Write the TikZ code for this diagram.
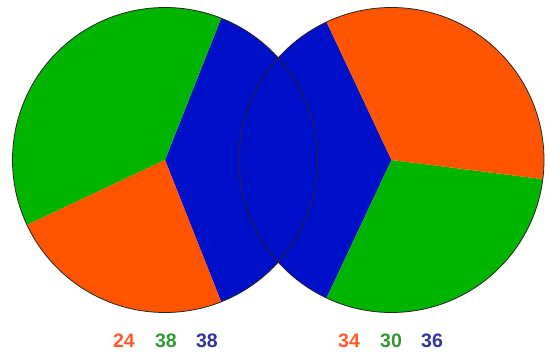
\documentclass[tikz,border=0pt]{standalone}
\usepackage{fontspec}
\setmainfont{Liberation Sans}
\definecolor{orangex}{HTML}{FF5500}
\definecolor{greenx}{HTML}{00B400}
\definecolor{bluex}{HTML}{0010C8}
\definecolor{orangetxt}{HTML}{FF5A2A}
\definecolor{greentxt}{HTML}{339933}
\definecolor{bluetxt}{HTML}{333399}
\tikzset{
  rim/.style={draw=black!85,line width=0.8pt},
  num/.style={font=\fontsize{19.5}{21}\selectfont\bfseries,inner sep=0pt}
}
\begin{document}
\begin{tikzpicture}[x=1pt,y=1pt]
\useasboundingbox (0,0) rectangle (549,354);
\coordinate (cl) at (165,194);
\coordinate (cr) at (391.5,194);
% left pie: 24 / 38 / 38
\fill[bluex] (cl) -- ++(-68.4:152.5) arc[start angle=-68.4,end angle=68.4,radius=152.5] -- cycle;
\fill[greenx] (cl) -- ++(68.4:152.5) arc[start angle=68.4,end angle=205.2,radius=152.5] -- cycle;
\fill[orangex] (cl) -- ++(205.2:152.5) arc[start angle=205.2,end angle=291.6,radius=152.5] -- cycle;
% right pie: 34 / 30 / 36
\fill[bluex] (cr) -- ++(115.2:152.5) arc[start angle=115.2,end angle=244.8,radius=152.5] -- cycle;
\fill[greenx] (cr) -- ++(244.8:152.5) arc[start angle=244.8,end angle=352.8,radius=152.5] -- cycle;
\fill[orangex] (cr) -- ++(-7.2:152.5) arc[start angle=-7.2,end angle=115.2,radius=152.5] -- cycle;
\draw[rim] (cl) circle (152.5);
\draw[rim] (cr) circle (152.5);
% counts
\node[num,text=orangetxt] (l24) at (124,13.5) {24};
\node[num,text=greentxt] (l38g) at (166,13.5) {38};
\node[num,text=bluetxt] (l38b) at (207,13.5) {38};
\node[num,text=orangetxt] (r34) at (349,13.5) {34};
\node[num,text=greentxt] (r30) at (391,13.5) {30};
\node[num,text=bluetxt] (r36) at (432,13.5) {36};
\end{tikzpicture}
\end{document}
